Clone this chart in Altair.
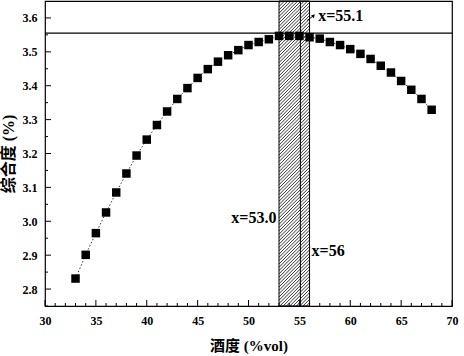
import altair as alt
import numpy as np
import pandas as pd

# ---- data ----
alcohol = list(range(33, 69))
score = [2.831, 2.901, 2.965, 3.026, 3.085, 3.141, 3.194, 3.241, 3.284, 3.324,
         3.361, 3.393, 3.423, 3.449, 3.471, 3.490, 3.505, 3.520, 3.529, 3.537,
         3.547, 3.547, 3.547, 3.543, 3.539, 3.529, 3.520, 3.508, 3.494, 3.479,
         3.459, 3.439, 3.414, 3.388, 3.361, 3.329]
band_lo, band_hi = 53.0, 56.0
opt_x = 55.1
h_line = 3.555
x_ticks_major = [30, 35, 40, 45, 50, 55, 60, 65, 70]
y_ticks_major = [2.8, 2.9, 3.0, 3.1, 3.2, 3.3, 3.4, 3.5, 3.6]
x_dom = [30, 70]
y_dom = [2.75, 3.65]
labels_txt = ["x=55.1", "x=53.0", "x=56"]
labels_x = [56.85, 52.75, 56.2]
labels_y = [3.607, 3.009, 2.912]
labels_align = ["left", "right", "left"]

W, H = 407, 305
SERIF = "Liberation Serif"
CJK = "Liberation Serif, Noto Sans CJK SC"

df = pd.DataFrame({"x": alcohol, "y": score})
xs = alt.Scale(domain=x_dom, nice=False, zero=False)
ys = alt.Scale(domain=y_dom, nice=False, zero=False)

xax = alt.Axis(values=x_ticks_major, ticks=False, domain=False, grid=False,
               labelFont=SERIF, labelFontWeight="bold", labelFontSize=12,
               labelColor="black", labelPadding=9, labelOverlap=False, labelFlush=False,
               title="酒度 (%vol)",
               titleFont=CJK, titleFontSize=15, titleFontWeight="bold",
               titleColor="black", titlePadding=12)
yax = alt.Axis(values=y_ticks_major, ticks=False, domain=False, grid=False,
               format=".1f", labelFont=SERIF, labelFontWeight="bold",
               labelFontSize=12, labelColor="black", labelPadding=8,
               labelOverlap=False, labelFlush=False,
               title="综合度 (%)", titleFont=CJK, titleFontSize=16,
               titleFontWeight="bold", titleColor="black", titlePadding=6)


def X(f):
    return alt.X(f, scale=xs, axis=xax, title="酒度 (%vol)")


def Y(f):
    return alt.Y(f, scale=ys, axis=yax, title="综合度 (%)")


# hatching inside band (45 degree lines in pixel space)
sx = W / (x_dom[1] - x_dom[0])
sy = H / (y_dom[1] - y_dom[0])
bw = (band_hi - band_lo) * sx
rows = []
for c in np.arange(-bw, H, 3.3):
    u0 = max(0.0, -c)
    u1 = min(bw, H - c)
    if u1 > u0:
        rows.append({"x": band_lo + u0 / sx, "y": y_dom[0] + (u0 + c) / sy,
                     "x2": band_lo + u1 / sx, "y2": y_dom[0] + (u1 + c) / sy})
hatch_df = pd.DataFrame(rows)

hatch = alt.Chart(hatch_df).mark_rule(color="black", strokeWidth=0.8, clip=True).encode(
    x=X("x:Q"), y=Y("y:Q"), x2="x2:Q", y2="y2:Q")

band = alt.Chart(pd.DataFrame({"a": [band_lo], "b": [band_hi]})).mark_rect(
    fill=None, stroke="black", strokeWidth=1).encode(
    x=X("a:Q"), x2="b:Q", y=alt.value(0), y2=alt.value(H))

vline = alt.Chart(pd.DataFrame({"v": [opt_x]})).mark_rule(color="black", strokeWidth=1).encode(
    x=X("v:Q"), y=alt.value(0), y2=alt.value(H))

hline = alt.Chart(pd.DataFrame({"h": [h_line]})).mark_rule(color="black", strokeWidth=1.2).encode(
    y=Y("h:Q"), x=alt.value(0), x2=alt.value(W))

line = alt.Chart(df).mark_line(color="black", strokeWidth=0.8, strokeDash=[1.5, 2]).encode(
    x=X("x:Q"), y=Y("y:Q"))

pts = alt.Chart(df).mark_point(shape="square", filled=True, color="black", size=72, opacity=1).encode(
    x=X("x:Q"), y=Y("y:Q"))

# minor & major ticks (inward)
x_minor = [v for v in range(31, 70) if v % 5 != 0]
y_minor = [round(2.75 + 0.1 * i, 2) for i in range(9)]
xt_major = alt.Chart(pd.DataFrame({"t": x_ticks_major})).mark_rule(color="black").encode(
    x=X("t:Q"), y=alt.value(H), y2=alt.value(H - 6))
xt_minor = alt.Chart(pd.DataFrame({"t": x_minor})).mark_rule(color="black").encode(
    x=X("t:Q"), y=alt.value(H), y2=alt.value(H - 3))
yt_major = alt.Chart(pd.DataFrame({"t": y_ticks_major})).mark_rule(color="black").encode(
    y=Y("t:Q"), x=alt.value(0), x2=alt.value(6))
yt_minor = alt.Chart(pd.DataFrame({"t": y_minor})).mark_rule(color="black").encode(
    y=Y("t:Q"), x=alt.value(0), x2=alt.value(3))

lab_df = pd.DataFrame({"t": labels_txt, "x": labels_x, "y": labels_y, "al": labels_align})
texts = []
for i in range(len(labels_txt)):
    texts.append(alt.Chart(lab_df.iloc[[i]]).mark_text(
        font=SERIF, fontSize=16, fontWeight="bold", color="black",
        align=labels_align[i], baseline="middle").encode(
        x=X("x:Q"), y=Y("y:Q"), text="t:N"))

arrow_df = pd.DataFrame({"x": [55.75], "y": [3.592], "x2": [56.4], "y2": [3.607]})
arrow_line = alt.Chart(arrow_df).mark_rule(color="black", strokeWidth=1).encode(
    x=X("x:Q"), y=Y("y:Q"), x2="x2:Q", y2="y2:Q")
arrow_head = alt.Chart(arrow_df).mark_point(shape="triangle-up", filled=True, color="black",
                                            size=16, angle=45, opacity=1).encode(
    x=X("x2:Q"), y=Y("y2:Q"))

chart = alt.layer(hatch, band, vline, hline, line, pts, xt_major, xt_minor, yt_major, yt_minor,
                  *texts, arrow_line, arrow_head).properties(
    width=W, height=H,
    autosize=alt.AutoSizeParams(type="none"),
    padding={"left": 45, "top": 1, "right": 12, "bottom": 50},
    background="white",
).configure_view(stroke="black", strokeWidth=1.2)

chart.save("out.html", embed_options={"renderer": "svg", "actions": False})
